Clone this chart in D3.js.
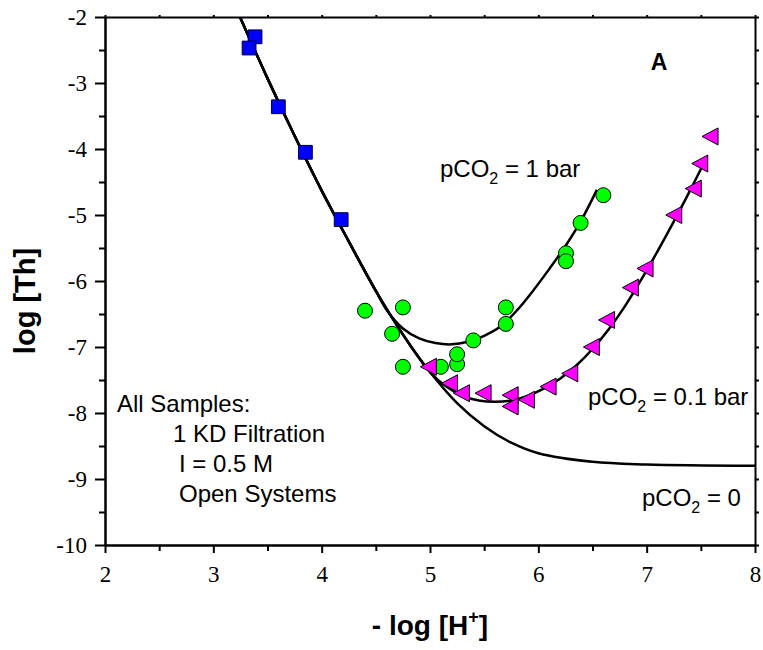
<!DOCTYPE html>
<html>
<head>
<meta charset="utf-8">
<script src="https://cdn.jsdelivr.net/npm/d3@7"></script>
<style>
  body { margin: 0; background: #fff; }
</style>
</head>
<body>
<div class="vis-chart"></div>
<script>
// data
const squareX = [3.385, 3.33, 3.6, 3.85, 4.18];
const squareY = [-2.3, -2.47, -3.36, -4.05, -5.07];

const circleX = [4.4, 4.75, 4.65, 4.75, 5.1, 5.25, 5.25, 5.4, 5.7, 5.7, 6.255, 6.255, 6.39, 6.6];
const circleY = [-6.45, -6.4, -6.8, -7.3, -7.3, -7.26, -7.11, -6.9, -6.4, -6.65, -5.58, -5.7, -5.12, -4.7];

const triX = [4.985, 5.18, 5.29, 5.49, 5.74, 5.74, 5.89, 6.09, 6.29, 6.49, 6.63, 6.85, 6.985, 7.25, 7.43, 7.49, 7.585];
const triY = [-7.3, -7.55, -7.7, -7.7, -7.73, -7.9, -7.8, -7.6, -7.4, -7.0, -6.59, -6.1, -5.81, -5.0, -4.6, -4.22, -3.81];

// fitted curves
const curve0X = [3.246, 3.5, 3.75, 4.0, 4.25, 4.5, 4.75, 5.0, 5.25, 5.5, 5.75, 6.0, 6.5, 7.0, 8.0];
const curve0Y = [-2.0, -2.93, -3.8, -4.63, -5.4, -6.15, -6.81, -7.38, -7.85, -8.2, -8.45, -8.61, -8.74, -8.78, -8.8];

const curve1X = [3.246, 3.5, 3.75, 4.0, 4.25, 4.5, 4.6, 4.75, 4.9, 5.05, 5.2, 5.35, 5.5, 5.65, 5.8, 5.95, 6.1, 6.25, 6.4, 6.54];
const curve1Y = [-2.0, -2.93, -3.8, -4.63, -5.4, -6.15, -6.44, -6.72, -6.87, -6.94, -6.96, -6.92, -6.83, -6.69, -6.45, -6.15, -5.82, -5.47, -5.07, -4.62];

const curve01X = [3.246, 3.5, 3.75, 4.0, 4.25, 4.5, 4.75, 5.0, 5.15, 5.3, 5.45, 5.6, 5.75, 5.9, 6.05, 6.2, 6.35, 6.5, 6.65, 6.8, 6.95, 7.1, 7.25, 7.4, 7.52];
const curve01Y = [-2.0, -2.93, -3.8, -4.63, -5.4, -6.15, -6.81, -7.38, -7.6, -7.74, -7.81, -7.83, -7.81, -7.74, -7.63, -7.48, -7.28, -7.03, -6.73, -6.38, -5.98, -5.55, -5.1, -4.63, -4.24];

const xTicks = [2, 3, 4, 5, 6, 7, 8];
const xMinor = [2.5, 3.5, 4.5, 5.5, 6.5, 7.5];
const yTicks = [-2, -3, -4, -5, -6, -7, -8, -9, -10];
const yMinor = [-2.5, -3.5, -4.5, -5.5, -6.5, -7.5, -8.5, -9.5];

const notes = ["All Samples:", "1 KD Filtration", "I = 0.5 M", "Open Systems"];

const zip = (xs, ys) => xs.map((v, i) => ({ x: v, y: ys[i] }));

const draw = () => {
  const W = 763, H = 650;
  const left = 105, right = 755, top = 17, bottom = 545;
  const sans = "Liberation Sans";
  const serif = "Liberation Serif";

  let svg = d3
    .select(".vis-chart")
    .append("svg")
    .attr("width", W)
    .attr("height", H);

  let x = d3.scaleLinear().domain([2, 8]).range([left, right]);
  let y = d3.scaleLinear().domain([-10, -2]).range([bottom, top]);

  svg.append("clipPath")
    .attr("id", "plot")
    .append("rect")
    .attr("x", left)
    .attr("y", top)
    .attr("width", right - left)
    .attr("height", bottom - top);

  // curves
  const line = d3
    .line()
    .x(function(d) { return x(d.x); })
    .y(function(d) { return y(d.y); })
    .curve(d3.curveCatmullRom.alpha(0.5));

  [zip(curve0X, curve0Y), zip(curve1X, curve1Y), zip(curve01X, curve01Y)].forEach(function(c) {
    svg.append("path")
      .datum(c)
      .attr("clip-path", "url(#plot)")
      .attr("fill", "none")
      .attr("stroke", "#000")
      .attr("stroke-width", 2.5)
      .attr("d", line);
  });

  // symbols
  svg.append("g")
    .selectAll("path")
    .data(zip(squareX, squareY))
    .join("path")
    .attr("transform", d => "translate(" + x(d.x) + "," + y(d.y) + ")")
    .attr("d", d3.symbol(d3.symbolSquare, 190))
    .attr("fill", "#0000ff")
    .attr("stroke", "#000033")
    .attr("stroke-width", 1);

  svg.append("g")
    .selectAll("circle")
    .data(zip(circleX, circleY))
    .join("circle")
    .attr("cx", d => x(d.x))
    .attr("cy", d => y(d.y))
    .attr("r", 7.5)
    .attr("fill", "#00ff00")
    .attr("stroke", "#000")
    .attr("stroke-width", 1);

  svg.append("g")
    .selectAll("path")
    .data(zip(triX, triY))
    .join("path")
    .attr("transform", d => "translate(" + x(d.x) + "," + y(d.y) + ")")
    .attr("d", "M-8,0L8,-8.5L8,8.5Z")
    .attr("fill", "#ff00ff")
    .attr("stroke", "#000")
    .attr("stroke-width", 1);

  // axes
  const styleAxis = g => {
    g.attr("font-family", serif).attr("font-size", 23);
    g.selectAll(".domain").attr("stroke-width", 2);
    g.selectAll(".tick line").attr("stroke-width", 2);
    g.selectAll("text").attr("fill", "#000");
  };

  svg.append("g")
    .attr("transform", "translate(0," + bottom + ")")
    .call(d3.axisBottom(x).tickValues(xTicks).tickSize(8).tickSizeOuter(0).tickPadding(13).tickFormat(d3.format("d")))
    .call(styleAxis);
  svg.append("g")
    .attr("transform", "translate(0," + bottom + ")")
    .call(d3.axisBottom(x).tickValues(xMinor).tickSize(6).tickSizeOuter(0).tickFormat(""))
    .call(styleAxis);

  svg.append("g")
    .attr("transform", "translate(" + left + ",0)")
    .call(d3.axisLeft(y).tickValues(yTicks).tickSize(10).tickSizeOuter(0).tickPadding(8).tickFormat(d => String(d)))
    .call(styleAxis);
  svg.append("g")
    .attr("transform", "translate(" + left + ",0)")
    .call(d3.axisLeft(y).tickValues(yMinor).tickSize(6).tickSizeOuter(0).tickFormat(""))
    .call(styleAxis);

  svg.append("g")
    .attr("transform", "translate(0," + top + ")")
    .call(d3.axisTop(x).tickValues(xTicks.concat(xMinor)).tickSize(2).tickSizeOuter(0).tickFormat(""))
    .call(styleAxis);
  svg.append("g")
    .attr("transform", "translate(" + right + ",0)")
    .call(d3.axisRight(y).tickValues(yTicks.concat(yMinor)).tickSize(4).tickSizeOuter(0).tickFormat(""))
    .call(styleAxis);

  // axis titles
  const xt = svg.append("text")
    .attr("x", 430)
    .attr("y", 635)
    .attr("text-anchor", "middle")
    .attr("font-family", sans)
    .attr("font-weight", "bold")
    .attr("font-size", 28);
  xt.append("tspan").text("- log [H");
  xt.append("tspan").attr("dy", -12).attr("font-size", 18).text("+");
  xt.append("tspan").attr("dy", 12).text("]");

  svg.append("text")
    .attr("transform", "translate(35,301) rotate(-90)")
    .attr("text-anchor", "middle")
    .attr("font-family", sans)
    .attr("font-weight", "bold")
    .attr("font-size", 29)
    .text("log [Th]");

  svg.append("text")
    .attr("x", 659)
    .attr("y", 70)
    .attr("text-anchor", "middle")
    .attr("font-family", sans)
    .attr("font-weight", "bold")
    .attr("font-size", 23)
    .text("A");

  // pCO2 labels
  const pco2 = (px, py, rest) => {
    const t = svg.append("text")
      .attr("x", px)
      .attr("y", py)
      .attr("font-family", sans)
      .attr("font-size", 24);
    t.append("tspan").text("pCO");
    t.append("tspan").attr("dy", 7).attr("font-size", 16).text("2");
    t.append("tspan").attr("dy", -7).text(" = " + rest);
  };
  pco2(440, 177, "1 bar");
  pco2(588, 405, "0.1 bar");
  pco2(642, 506, "0");

  const noteX = [117, 173, 179, 179];
  svg.append("g")
    .selectAll("text")
    .data(notes)
    .join("text")
    .attr("x", (d, i) => noteX[i])
    .attr("y", (d, i) => 412 + i * 30)
    .attr("font-family", sans)
    .attr("font-size", 24)
    .text(d => d);
};

draw();
</script>
</body>
</html>
